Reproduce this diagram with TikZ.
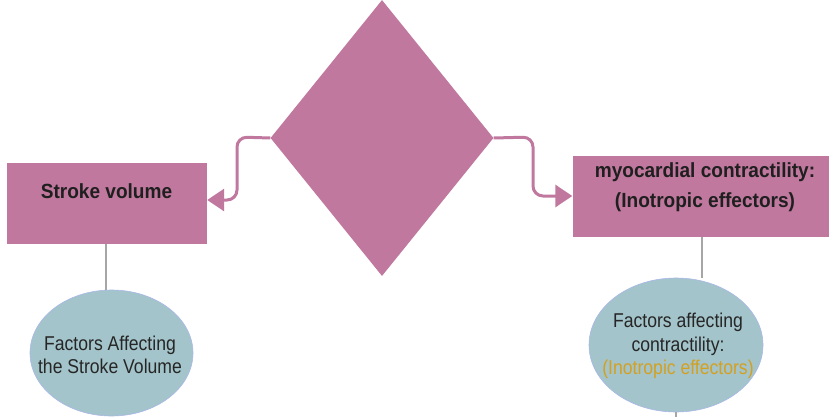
\documentclass[tikz,border=0pt]{standalone}
\usepackage{fontspec}
\setmainfont{Liberation Sans}
\newfontfamily\boxfont[FakeStretch=0.93]{Liberation Sans}
\newfontfamily\ellfont[FakeStretch=0.88]{Liberation Sans}
\usetikzlibrary{shapes.geometric,arrows.meta}
\definecolor{pinkc}{HTML}{C0789E}
\definecolor{tealc}{HTML}{A3C4CA}
\definecolor{goldc}{HTML}{D4A020}
\definecolor{greyc}{HTML}{A6A6A6}
\tikzset{
  pbox/.style={rectangle, fill=pinkc, draw=none, inner sep=0pt},
  boxtxt/.style={font=\boxfont\bfseries\fontsize{20.5}{30}\selectfont, align=center, text=black!88, inner sep=0pt},
  ell/.style={ellipse, fill=tealc, draw=tealc!70!blue!60!white, line width=0.6pt, inner sep=0pt},
  elltxt/.style={font=\ellfont\fontsize{20}{23.5}\selectfont, align=center, text=black!85, inner sep=0pt},
  parr/.style={draw=pinkc, line width=3pt, rounded corners=10pt, -{Triangle[length=17pt,width=22pt]}},
  gline/.style={draw=greyc, line width=1.5pt}
}
\begin{document}
\begin{tikzpicture}[x=1pt,y=-1pt]
\useasboundingbox (0,0) rectangle (829,417);
\node[diamond, fill=pinkc, inner sep=0pt, minimum width=223pt, minimum height=276pt] (dia) at (382,138) {};
\node[pbox, minimum width=200pt, minimum height=81pt] (sv) at (107,203.5) {};
\node[boxtxt] (svt) at (106.5,191) {Stroke volume};
\node[pbox, minimum width=257pt, minimum height=81pt] (mc) at (701,196.5) {};
\node[boxtxt] (mct) at (705,187) {myocardial contractility:\\(Inotropic effectors)};
\node[ell, minimum width=163pt, minimum height=126pt] (e1) at (111.5,353) {};
\node[elltxt] (e1t) at (110,355) {Factors Affecting\\the Stroke Volume};
\node[ell, minimum width=174pt, minimum height=134pt] (e2) at (676,345) {};
\node[elltxt] (e2t) at (678,346) {Factors affecting\\contractility:\\\textcolor{goldc}{(Inotropic effectors)}};
\draw[gline] (sv.south -| 106,0) -- (e1.north -| 106,0);
\draw[gline] (mc.south -| 702,0) -- (e2.north -| 702,0);
\coordinate (bot) at (676,417);
\draw[gline] (e2.south) -- (bot);
\draw[parr] (dia.west) -- (237,137) -- (237,200) -- (sv.east |- 0,200);
\draw[parr] (dia.east) -- (533,137) -- (533,196) -- (mc.west |- 0,196);
\end{tikzpicture}
\end{document}
